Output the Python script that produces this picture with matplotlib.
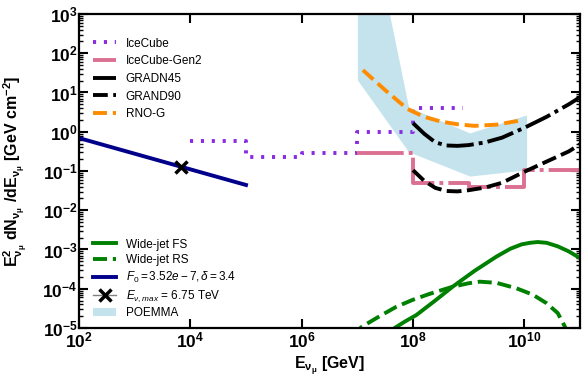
import numpy as np
import matplotlib
matplotlib.use('Agg')
import matplotlib.pyplot as plt
from matplotlib.ticker import FixedLocator, LogLocator, NullLocator, FuncFormatter
from matplotlib.patches import Patch

plt.rcParams['font.family'] = ['Liberation Sans', 'DejaVu Sans']
plt.rcParams['mathtext.fontset'] = 'custom'
plt.rcParams['mathtext.rm'] = 'Liberation Sans'
plt.rcParams['mathtext.it'] = 'Liberation Sans:italic'
plt.rcParams['mathtext.bf'] = 'Liberation Sans:bold'

#---Data---
# IceCube: step edges [GeV] and E^2 dN/dE values
icecube_edges = [1e4, 1e5, 1e6, 1e7, 1e8, 8e8]
icecube_vals = [0.58, 0.23, 0.29, 1.0, 4.1]
# IceCube-Gen2 steps
gen2_edges = [1e7, 1e8, 1e9, 1e10, 1e11]
gen2_vals = [0.28, 0.049, 0.040, 0.107]
# GRAND curves, log10 values
grand_logE = [8.0, 8.2, 8.4, 8.6, 8.8, 9.0, 9.3, 9.6, 10.0, 10.4, 10.8, 11.0]
grand45_logF = [0.22, -0.05, -0.27, -0.35, -0.36, -0.34, -0.27, -0.15, 0.10, 0.38, 0.70, 0.88]
grand90_logF = [-0.98, -1.25, -1.43, -1.51, -1.52, -1.49, -1.42, -1.30, -1.02, -0.76, -0.50, -0.32]
# RNO-G
rnog_logE = [7.1, 7.5, 7.9, 8.2, 8.5, 8.8, 9.1, 9.5, 9.9]
rnog_logF = [1.57, 1.06, 0.58, 0.38, 0.26, 0.19, 0.15, 0.18, 0.28]
# POEMMA band
poemma_logE = [7.0, 7.92, 9.02, 10.04]
poemma_up = [7.0, 0.63, -0.03, 0.43]
poemma_lo = [1.32, -0.51, -1.13, -0.97]
# Wide-jet forward / reverse shock
fs_logE = [7.5, 7.67, 7.85, 8.06, 8.4, 8.71, 9.1, 9.5, 9.75, 9.95, 10.1, 10.24, 10.4, 10.6, 10.8, 11.0]
fs_logF = [-5.25, -5.0, -4.84, -4.67, -4.30, -3.95, -3.55, -3.18, -2.98, -2.87, -2.83, -2.81, -2.83, -2.92, -3.05, -3.22]
rs_logE = [6.9, 7.08, 7.4, 7.7, 8.0, 8.3, 8.71, 9.0, 9.2, 9.5, 9.86, 10.15, 10.4, 10.6, 10.73, 10.85]
rs_logF = [-5.2, -4.97, -4.70, -4.46, -4.28, -4.13, -3.95, -3.86, -3.82, -3.85, -3.99, -4.15, -4.37, -4.62, -4.97, -5.3]
# power law fit and max energy point
fit_E = [1e2, 1e5]
fit_F = [0.69, 0.044]
emax_E = [6750.0]
emax_F = [0.129]

#---Plot---
fig = plt.figure(figsize=(5.87, 3.79), dpi=100)
ax = fig.add_axes([0.1346, 0.1346, 0.8535, 0.8285])
lw = 2.8

pe = 10**np.array(poemma_logE)
ax.fill_between(pe, 10**np.array(poemma_lo), 10**np.array(poemma_up),
                color='lightblue', alpha=0.7, lw=0, zorder=1)

l_ic, = ax.step(icecube_edges, icecube_vals + [icecube_vals[-1]], where='post',
                color='blueviolet', lw=lw, ls=(0, (0.8, 2.0)), label='IceCube')
l_g2, = ax.step(gen2_edges, gen2_vals + [gen2_vals[-1]], where='post',
                color='palevioletred', lw=lw, ls=(0, (12, 1.3, 1.0, 1.3)), label='IceCube-Gen2')
l_45, = ax.plot(10**np.array(grand_logE), 10**np.array(grand45_logF), color='k', lw=lw,
                ls=(0, (7, 1.3, 1.0, 1.3)), label='GRADN45')
l_90, = ax.plot(10**np.array(grand_logE), 10**np.array(grand90_logF), color='k', lw=lw,
                ls=(0, (3.8, 1.4)), label='GRAND90')
l_rn, = ax.plot(10**np.array(rnog_logE), 10**np.array(rnog_logF), color='darkorange', lw=lw,
                ls=(0, (3.6, 1.5)), label='RNO-G')

l_fs, = ax.plot(10**np.array(fs_logE), 10**np.array(fs_logF), color='green', lw=lw,
                label='Wide-jet FS')
l_rs, = ax.plot(10**np.array(rs_logE), 10**np.array(rs_logF), color='green', lw=lw,
                ls=(0, (3.6, 1.5)), label='Wide-jet RS')
l_fit, = ax.plot(fit_E, fit_F, color='darkblue', lw=lw,
                 label=r'$F_0 = 3.52e-7, \delta = 3.4$')
l_em, = ax.plot(emax_E, emax_F, marker='x', color='gray', lw=1, mec='k', mew=2.5, ms=9,
                label=r'$E_{\nu,max}$ = 6.75 TeV')
p_po = Patch(facecolor='lightblue', alpha=0.7, edgecolor='none', label='POEMMA')

ax.set_xscale('log')
ax.set_yscale('log')
ax.set_xlim(1e2, 1e11)
ax.set_ylim(1e-5, 1e3)

fmt = FuncFormatter(lambda v, p: r'$\mathbf{10^{%d}}$' % int(round(np.log10(v))))
ax.xaxis.set_major_locator(FixedLocator([1e2, 1e4, 1e6, 1e8, 1e10]))
ax.xaxis.set_minor_locator(NullLocator())
ax.yaxis.set_major_locator(LogLocator(base=10, numticks=20))
ax.yaxis.set_minor_locator(LogLocator(base=10, subs=np.arange(2, 10), numticks=100))
ax.xaxis.set_major_formatter(fmt)
ax.yaxis.set_major_formatter(fmt)
ax.tick_params(which='both', direction='in', top=True, right=True, labelsize=12.5)
ax.tick_params(which='major', length=6.3, width=1.5)
ax.tick_params(which='minor', length=3, width=1)
ax.tick_params(axis='x', pad=1.5)
ax.tick_params(axis='y', pad=1.0)
for s in ax.spines.values():
    s.set_linewidth(1.6)

ax.set_xlabel(r'$\mathbf{E_{\nu_\mu}}$ [GeV]', fontsize=11.5, fontweight='bold')
ax.set_ylabel(r'$\mathbf{E^2_{\nu_\mu}\ dN_{\nu_\mu}\ /dE_{\nu_\mu}}$ [GeV cm$^{\mathbf{-2}}$]',
              fontsize=11.5, fontweight='bold')
ax.xaxis.set_label_coords(0.5, -0.086)
ax.yaxis.set_label_coords(-0.1, 0.5)

leg1 = ax.legend(handles=[l_ic, l_g2, l_45, l_90, l_rn], loc='upper left',
                 bbox_to_anchor=(0.018, 0.94), borderaxespad=0, frameon=False,
                 fontsize=8.5, labelspacing=0.48)
ax.add_artist(leg1)
ax.legend(handles=[l_fs, l_rs, l_fit, l_em, p_po], loc='lower left',
          bbox_to_anchor=(0.018, 0.012), borderaxespad=0, frameon=False,
          fontsize=8.5, labelspacing=0.3)

plt.savefig('out.png', dpi=100)
